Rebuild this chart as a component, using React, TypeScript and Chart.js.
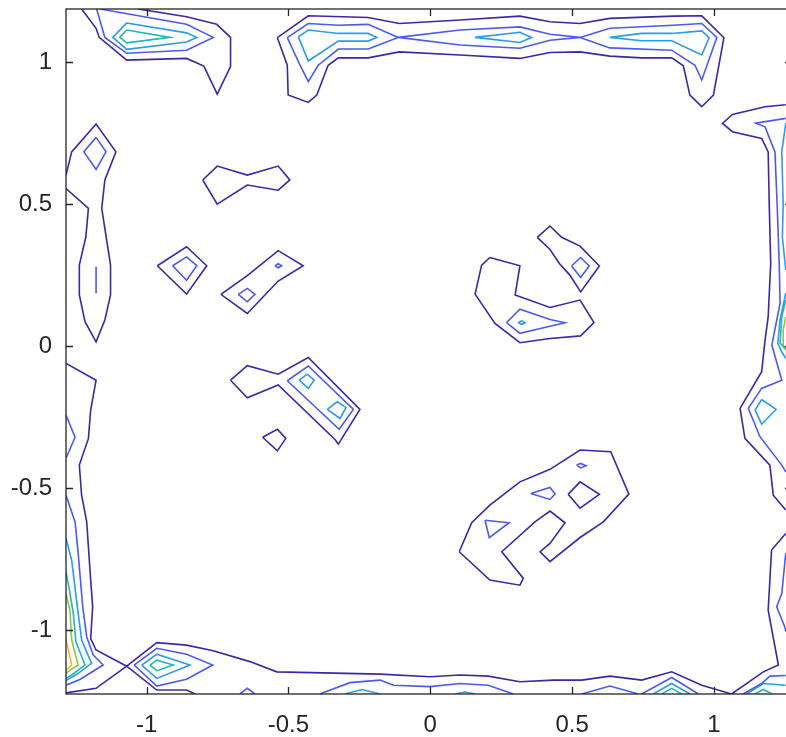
import { useEffect, useRef } from "react";
import { Chart, registerables } from "chart.js";

Chart.register(...registerables);

// ---- axes ----
const xRange = [-1.284, 1.275];
const yRange = [-1.225, 1.187];
const xTicks = [-1, -0.5, 0, 0.5, 1];
const xTickLabels = ["-1", "-0.5", "0", "0.5", "1"];
const yTicks = [-1, -0.5, 0, 0.5, 1];
const yTickLabels = ["-1", "-0.5", "0", "0.5", "1"];

// contour level colours (parula)
const levelColors = ["#3e26a8", "#4a5bf0", "#2a9ce8", "#1fb8b2", "#8bc74a", "#f3b73a"];

// ---- contour lines, level 1 ----
const l1TopLeft = [[-1.229, 1.187], [-1.178, 1.119], [-1.167, 1.087], [-1.07, 1.007], [-0.859, 1.013], [-0.798, 0.986], [-0.751, 0.887], [-0.704, 0.984], [-0.704, 1.087], [-0.753, 1.133], [-0.859, 1.16], [-1.03, 1.187]];
const l1Top = [[-0.539, 1.086], [-0.43, 1.163], [-0.219, 1.157], [-0.109, 1.136], [0.105, 1.148], [0.316, 1.162], [0.422, 1.142], [0.528, 1.136], [0.633, 1.154], [0.857, 1.162], [0.957, 1.163], [1.035, 1.086], [0.998, 0.884], [0.957, 0.843], [0.915, 0.884], [0.892, 0.987], [0.851, 1.015], [0.745, 1.015], [0.633, 1.021], [0.528, 1.036], [0.422, 1.034], [0.316, 1.013], [0.105, 1.025], [-0.109, 1.036], [-0.219, 1.015], [-0.324, 1.015], [-0.36, 0.989], [-0.4, 0.884], [-0.43, 0.858], [-0.501, 0.884], [-0.504, 0.989], [-0.539, 1.086]];
const l1RightUpper = [[1.253, 0.85], [1.18, 0.843], [1.065, 0.816], [1.03, 0.784], [1.065, 0.755], [1.168, 0.731], [1.191, 0.684], [1.195, 0.49], [1.2, 0.291], [1.191, 0.103], [1.18, 0.021], [1.168, -0.09], [1.092, -0.219], [1.109, -0.325], [1.197, -0.419], [1.209, -0.525], [1.253, -0.577]];
const l1RightLower = [[1.253, -0.66], [1.203, -0.718], [1.191, -0.93], [1.227, -1.123], [1.174, -1.147], [1.062, -1.225]];
const l1LeftLower = [[-1.284, -0.061], [-1.178, -0.12], [-1.197, -0.225], [-1.205, -0.325], [-1.237, -0.419], [-1.229, -0.525], [-1.211, -0.619], [-1.197, -0.824], [-1.19, -0.918], [-1.197, -1.03], [-1.178, -1.07], [-1.07, -1.127], [-0.964, -1.211], [-0.859, -1.211], [-0.829, -1.225]];
const l1Bottom = [[-1.284, -1.221], [-1.178, -1.205], [-1.07, -1.127], [-0.964, -1.044], [-0.859, -1.053], [-0.765, -1.073], [-0.636, -1.111], [-0.541, -1.147], [-0.177, -1.155], [-0.001, -1.164], [0.105, -1.158], [0.204, -1.162], [0.316, -1.182], [0.434, -1.176], [0.534, -1.176], [0.633, -1.162], [0.745, -1.176], [0.851, -1.147], [0.957, -1.194], [1.062, -1.225]];
const l1LeftUpper = [[-1.284, 0.602], [-1.264, 0.684], [-1.178, 0.782], [-1.108, 0.684], [-1.147, 0.585], [-1.158, 0.485], [-1.127, 0.285], [-1.127, 0.18], [-1.147, 0.092], [-1.178, 0.015], [-1.217, 0.086], [-1.237, 0.18], [-1.237, 0.285], [-1.214, 0.385], [-1.205, 0.485], [-1.284, 0.555]];
const l1BlobA = [[-0.802, 0.585], [-0.751, 0.634], [-0.645, 0.602], [-0.536, 0.634], [-0.495, 0.585], [-0.536, 0.549], [-0.645, 0.567], [-0.751, 0.5], [-0.802, 0.585]];
const l1Diamond = [[-0.962, 0.283], [-0.859, 0.35], [-0.788, 0.283], [-0.859, 0.183], [-0.962, 0.283]];
const l1BlobB = [[-0.738, 0.182], [-0.645, 0.248], [-0.536, 0.336], [-0.448, 0.283], [-0.536, 0.229], [-0.645, 0.115], [-0.738, 0.182]];
const l1BlobC = [[0.377, 0.383], [0.422, 0.423], [0.463, 0.383], [0.528, 0.352], [0.596, 0.282], [0.53, 0.191], [0.492, 0.25], [0.455, 0.291], [0.422, 0.34], [0.377, 0.383]];
const l1Hook = [[0.21, 0.312], [0.316, 0.283], [0.299, 0.18], [0.422, 0.136], [0.528, 0.162], [0.577, 0.083], [0.53, 0.036], [0.422, 0.027], [0.316, 0.012], [0.228, 0.08], [0.158, 0.183], [0.181, 0.285], [0.21, 0.312]];
const l1BlobD = [[-0.704, -0.12], [-0.645, -0.069], [-0.536, -0.099], [-0.43, -0.04], [-0.248, -0.223], [-0.324, -0.345], [-0.336, -0.329], [-0.536, -0.137], [-0.645, -0.182], [-0.704, -0.12]];
const l1Small = [[-0.591, -0.321], [-0.539, -0.293], [-0.509, -0.325], [-0.539, -0.369], [-0.591, -0.321]];
const l1BigLower = [[0.102, -0.724], [0.146, -0.622], [0.21, -0.56], [0.316, -0.478], [0.422, -0.434], [0.528, -0.366], [0.636, -0.372], [0.7, -0.521], [0.61, -0.619], [0.528, -0.674], [0.422, -0.759], [0.387, -0.724], [0.422, -0.695], [0.475, -0.622], [0.422, -0.581], [0.369, -0.619], [0.252, -0.724], [0.328, -0.818], [0.316, -0.842], [0.21, -0.824], [0.102, -0.724]];
const l1LowerDiamond = [[0.486, -0.522], [0.528, -0.478], [0.596, -0.522], [0.528, -0.571], [0.486, -0.522]];

// ---- level 2 ----
const l2TopLeft = [[-1.164, 1.187], [-0.859, 1.133], [-0.765, 1.087], [-0.859, 1.042], [-1.07, 1.031], [-1.147, 1.087], [-1.176, 1.187]];
const l2TopA = [[-0.504, 1.086], [-0.43, 1.136], [-0.324, 1.13], [-0.219, 1.133], [-0.113, 1.087], [-0.219, 1.046], [-0.324, 1.046], [-0.395, 0.989], [-0.43, 0.931], [-0.459, 0.989], [-0.504, 1.086]];
const l2TopB = [[-0.113, 1.087], [0.105, 1.113], [0.316, 1.124], [0.422, 1.098], [0.528, 1.087], [0.422, 1.077], [0.316, 1.049], [0.105, 1.06], [-0.113, 1.087]];
const l2TopC = [[0.528, 1.087], [0.633, 1.119], [0.857, 1.13], [0.957, 1.136], [1.01, 1.087], [0.957, 0.937], [0.933, 0.989], [0.851, 1.042], [0.633, 1.05], [0.528, 1.087]];
const l2Right = [[1.253, 0.802], [1.147, 0.785], [1.18, 0.772], [1.215, 0.684], [1.223, 0.49], [1.23, 0.291], [1.233, 0.15], [1.219, 0.08], [1.204, 0.004], [1.239, -0.12], [1.168, -0.149], [1.121, -0.219], [1.162, -0.319], [1.239, -0.419], [1.253, -0.443]];
const l2RightLower = [[1.253, -0.73], [1.239, -0.871], [1.221, -0.918], [1.247, -0.982], [1.253, -1.0]];
const l2RightBottom = [[1.253, -1.16], [1.197, -1.162], [1.168, -1.188], [1.103, -1.225]];
const l2LeftDiamond = [[-1.178, 0.735], [-1.143, 0.684], [-1.178, 0.622], [-1.221, 0.684], [-1.178, 0.735]];
const l2LeftSegment = [[-1.178, 0.279], [-1.178, 0.186]];
const l2Diamond = [[-0.908, 0.283], [-0.859, 0.314], [-0.823, 0.283], [-0.859, 0.232], [-0.908, 0.283]];
const l2SmallA = [[-0.677, 0.182], [-0.645, 0.203], [-0.618, 0.182], [-0.645, 0.156], [-0.677, 0.182]];
const l2Tiny = [[-0.547, 0.283], [-0.536, 0.29], [-0.524, 0.283], [-0.536, 0.276], [-0.547, 0.283]];
const l2BlobC = [[0.498, 0.282], [0.53, 0.312], [0.56, 0.282], [0.53, 0.242], [0.498, 0.282]];
const l2Hook = [[0.269, 0.083], [0.316, 0.13], [0.422, 0.094], [0.475, 0.082], [0.422, 0.07], [0.316, 0.045], [0.269, 0.083]];
const l2BlobD = [[-0.504, -0.122], [-0.43, -0.07], [-0.271, -0.223], [-0.321, -0.293], [-0.504, -0.122]];
const l2TriA = [[0.193, -0.613], [0.208, -0.674], [0.278, -0.622], [0.193, -0.613]];
const l2TriB = [[0.354, -0.519], [0.422, -0.498], [0.44, -0.521], [0.422, -0.54], [0.354, -0.519]];
const l2TinyB = [[0.516, -0.419], [0.53, -0.413], [0.549, -0.421], [0.53, -0.429], [0.516, -0.419]];
const l2LeftMid = [[-1.284, -0.243], [-1.252, -0.321], [-1.284, -0.395]];
const l2LeftLong = [[-1.284, -0.525], [-1.252, -0.619], [-1.241, -0.73], [-1.225, -0.918], [-1.211, -1.024], [-1.188, -1.088], [-1.153, -1.123], [-1.235, -1.174], [-1.284, -1.194]];
const l2BottomLeft = [[-1.044, -1.123], [-0.964, -1.064], [-0.859, -1.085], [-0.767, -1.123], [-0.859, -1.173], [-0.964, -1.197], [-1.044, -1.123]];
const l2Blip = [[-0.671, -1.225], [-0.645, -1.205], [-0.618, -1.225]];
const l2Bottom = [[-0.389, -1.225], [-0.283, -1.185], [-0.177, -1.176], [-0.13, -1.194], [-0.001, -1.199], [0.105, -1.188], [0.204, -1.194], [0.293, -1.225]];
const l2BottomB = [[0.534, -1.225], [0.633, -1.197], [0.733, -1.225]];
const l2BottomC = [[0.745, -1.225], [0.851, -1.167], [0.945, -1.225]];

// ---- level 3 ----
const l3TopLeft = [[-1.07, 1.138], [-0.859, 1.103], [-0.823, 1.087], [-0.859, 1.071], [-1.07, 1.045], [-1.119, 1.087], [-1.07, 1.138]];
const l3TopA = [[-0.465, 1.089], [-0.43, 1.113], [-0.324, 1.101], [-0.219, 1.101], [-0.189, 1.087], [-0.219, 1.074], [-0.324, 1.074], [-0.43, 1.004], [-0.465, 1.089]];
const l3TopB = [[0.158, 1.087], [0.316, 1.105], [0.357, 1.087], [0.316, 1.069], [0.158, 1.087]];
const l3TopC = [[0.633, 1.087], [0.745, 1.075], [0.851, 1.075], [0.957, 1.025], [0.983, 1.086], [0.957, 1.11], [0.851, 1.101], [0.745, 1.101], [0.633, 1.087]];
const l3RightA = [[1.253, 0.784], [1.239, 0.684], [1.244, 0.496], [1.241, 0.385], [1.253, 0.268]];
const l3RightB = [[1.253, 0.186], [1.233, 0.092], [1.225, 0.01], [1.239, -0.02], [1.253, -0.043]];
const l3RightDiamond = [[1.168, -0.188], [1.219, -0.223], [1.168, -0.275], [1.145, -0.225], [1.168, -0.188]];
const l3HookTiny = [[0.31, 0.083], [0.322, 0.089], [0.334, 0.082], [0.322, 0.076], [0.31, 0.083]];
const l3BlobDa = [[-0.462, -0.12], [-0.434, -0.099], [-0.409, -0.12], [-0.43, -0.149], [-0.462, -0.12]];
const l3BlobDb = [[-0.363, -0.223], [-0.328, -0.196], [-0.297, -0.216], [-0.318, -0.255], [-0.363, -0.223]];
const l3Left = [[-1.284, -0.677], [-1.264, -0.754], [-1.244, -0.918], [-1.229, -1.035], [-1.194, -1.117], [-1.241, -1.152], [-1.284, -1.178]];
const l3BottomLeft = [[-1.017, -1.123], [-0.964, -1.085], [-0.847, -1.123], [-0.964, -1.17], [-1.017, -1.123]];
const l3BottomA = [[-0.301, -1.225], [-0.241, -1.209], [-0.177, -1.225]];
const l3BottomB = [[0.087, -1.225], [0.122, -1.218], [0.158, -1.225]];
const l3BottomC = [[0.786, -1.225], [0.851, -1.188], [0.915, -1.225]];
const l3BottomRight = [[1.115, -1.225], [1.174, -1.188], [1.253, -1.194]];

// ---- level 4 ----
const l4TopLeft = [[-1.07, 1.113], [-0.918, 1.087], [-1.07, 1.068], [-1.094, 1.087], [-1.07, 1.113]];
const l4Right = [[1.253, 0.162], [1.239, 0.103], [1.233, 0.01], [1.253, -0.008]];
const l4Left = [[-1.284, -0.795], [-1.272, -0.859], [-1.258, -0.942], [-1.249, -1.041], [-1.217, -1.123], [-1.264, -1.158], [-1.284, -1.17]];
const l4BottomLeft = [[-0.988, -1.123], [-0.964, -1.106], [-0.906, -1.123], [-0.964, -1.143], [-0.988, -1.123]];
const l4BottomA = [[0.816, -1.225], [0.851, -1.205], [0.886, -1.225]];
const l4BottomRight = [[1.145, -1.225], [1.174, -1.209], [1.205, -1.225]];

// ---- level 5 ----
const l5Right = [[1.253, 0.103], [1.244, 0.056], [1.244, -0.002], [1.253, -0.014]];
const l5Left = [[-1.284, -0.873], [-1.27, -0.93], [-1.264, -1.035], [-1.241, -1.123], [-1.27, -1.141], [-1.284, -1.152]];

// ---- level 6 ----
const l6Left = [[-1.284, -1.033], [-1.264, -1.123], [-1.284, -1.141]];

const contours: [number, number[][]][] = [
  [0, l1TopLeft], [0, l1Top], [0, l1RightUpper], [0, l1RightLower], [0, l1LeftLower], [0, l1Bottom],
  [0, l1LeftUpper], [0, l1BlobA], [0, l1Diamond], [0, l1BlobB], [0, l1BlobC], [0, l1Hook], [0, l1BlobD],
  [0, l1Small], [0, l1BigLower], [0, l1LowerDiamond],
  [1, l2TopLeft], [1, l2TopA], [1, l2TopB], [1, l2TopC], [1, l2Right], [1, l2RightLower], [1, l2RightBottom],
  [1, l2LeftDiamond], [1, l2LeftSegment], [1, l2Diamond], [1, l2SmallA], [1, l2Tiny], [1, l2BlobC], [1, l2Hook],
  [1, l2BlobD], [1, l2TriA], [1, l2TriB], [1, l2TinyB], [1, l2LeftMid], [1, l2LeftLong], [1, l2BottomLeft],
  [1, l2Blip], [1, l2Bottom], [1, l2BottomB], [1, l2BottomC],
  [2, l3TopLeft], [2, l3TopA], [2, l3TopB], [2, l3TopC], [2, l3RightA], [2, l3RightB], [2, l3RightDiamond],
  [2, l3HookTiny], [2, l3BlobDa], [2, l3BlobDb], [2, l3Left], [2, l3BottomLeft], [2, l3BottomA], [2, l3BottomB],
  [2, l3BottomC], [2, l3BottomRight],
  [3, l4TopLeft], [3, l4Right], [3, l4Left], [3, l4BottomLeft], [3, l4BottomA], [3, l4BottomRight],
  [4, l5Right], [4, l5Left],
  [5, l6Left],
];

const AXIS_COLOR = "#262626";
const FONT = "'Liberation Sans', Arial, Helvetica, sans-serif";

const framePlugin = {
  id: "matlabFrame",
  afterDraw(chart: any) {
    const { ctx, chartArea, scales } = chart;
    const { left, right, top, bottom } = chartArea;
    const xs = scales.x;
    const ys = scales.y;
    const tl = 7;
    ctx.save();
    ctx.strokeStyle = AXIS_COLOR;
    ctx.lineWidth = 1.3;
    ctx.strokeRect(left, top, right - left, bottom - top);
    ctx.beginPath();
    for (const v of xTicks) {
      const px = Math.round(xs.getPixelForValue(v)) + 0.5;
      ctx.moveTo(px, bottom);
      ctx.lineTo(px, bottom - tl);
      ctx.moveTo(px, top);
      ctx.lineTo(px, top + tl);
    }
    for (const v of yTicks) {
      const py = Math.round(ys.getPixelForValue(v)) + 0.5;
      ctx.moveTo(left, py);
      ctx.lineTo(left + tl, py);
      ctx.moveTo(right, py);
      ctx.lineTo(right - tl, py);
    }
    ctx.stroke();
    ctx.restore();
  },
};

export default function App() {
  const canvasRef = useRef<HTMLCanvasElement | null>(null);

  useEffect(() => {
    document.body.style.margin = "0";
    document.body.style.overflow = "hidden";
    const canvas = canvasRef.current;
    if (!canvas) return;
    const datasets = contours.map(([lvl, pts]) => ({
      data: pts.map(([x, y]) => ({ x, y })),
      showLine: true,
      borderColor: levelColors[lvl],
      backgroundColor: levelColors[lvl],
      borderWidth: 1.6,
      pointRadius: 0,
      pointHoverRadius: 0,
      fill: false,
      tension: 0,
    }));
    const chart = new Chart(canvas, {
      type: "scatter",
      data: { datasets },
      plugins: [framePlugin],
      options: {
        animation: false,
        responsive: true,
        maintainAspectRatio: false,
        layout: { padding: { top: 9, right: 4, left: 0, bottom: 0 } },
        plugins: { legend: { display: false }, tooltip: { enabled: false } },
        events: [],
        scales: {
          x: {
            type: "linear",
            min: xRange[0],
            max: xRange[1],
            grid: { display: false, drawTicks: false },
            border: { display: false },
            afterBuildTicks: (s: any) => {
              s.ticks = xTicks.map((v) => ({ value: v }));
            },
            afterFit: (s: any) => {
              s.height = 43;
              s.paddingLeft = 0;
              s.paddingRight = 0;
            },
            ticks: {
              autoSkip: false,
              maxRotation: 0,
              padding: 17,
              color: AXIS_COLOR,
              font: { family: FONT, size: 24 },
              callback: (_v: any, i: number) => xTickLabels[i],
            },
          },
          y: {
            type: "linear",
            min: yRange[0],
            max: yRange[1],
            grid: { display: false, drawTicks: false },
            border: { display: false },
            afterBuildTicks: (s: any) => {
              s.ticks = yTicks.map((v) => ({ value: v }));
            },
            afterFit: (s: any) => {
              s.width = 66;
              s.paddingTop = 0;
              s.paddingBottom = 0;
            },
            ticks: {
              autoSkip: false,
              padding: 14,
              color: AXIS_COLOR,
              font: { family: FONT, size: 24 },
              callback: (_v: any, i: number) => yTickLabels[i],
            },
          },
        },
      } as any,
    });
    return () => chart.destroy();
  }, []);

  return (
    <div style={{ position: "fixed", left: 0, top: 0, width: 786, height: 737, overflow: "hidden", background: "#fff" }}>
      <div style={{ position: "relative", width: 796, height: 737 }}>
        <canvas ref={canvasRef} />
      </div>
    </div>
  );
}
